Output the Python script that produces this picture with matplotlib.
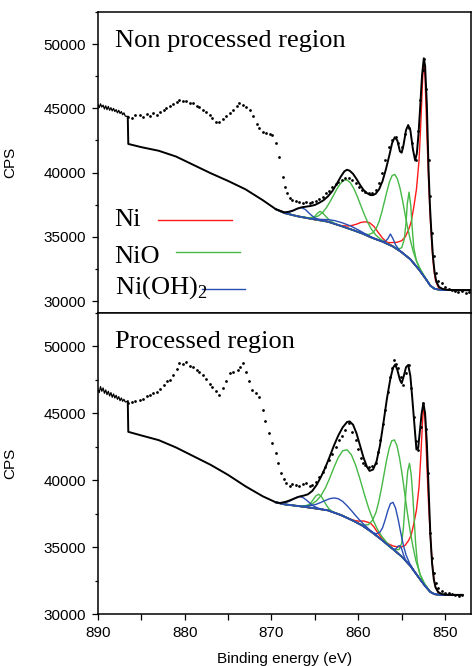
import numpy as np
import matplotlib.pyplot as plt
from matplotlib.ticker import MultipleLocator

# ---------------- shared ----------------
noise_e = [890.0, 889.85, 889.7, 889.55, 889.4, 889.25, 889.1, 888.95, 888.8, 888.65, 888.5, 888.35,
           888.2, 888.05, 887.9, 887.75, 887.6, 887.45, 887.3, 887.15, 887.0, 886.85, 886.56]

# ---------------- top panel: non processed region ----------------
top_noise_v = [45300, 45050, 45350, 45100, 45250, 44950, 45200, 44900, 45150, 44850, 45050, 44800,
               45000, 44750, 44900, 44650, 44850, 44600, 44750, 44500, 44650, 44400, 44350]

top_bg_e = [886.56, 886.5, 885.0, 883.0, 881.0, 879.0, 877.0, 875.0, 873.0, 871.0, 869.5, 868.5, 867.0,
            865.0, 863.5, 862.0, 860.5, 859.5, 858.5, 857.3, 856.0, 855.0, 854.0, 853.0, 852.3, 851.7,
            851.2, 850.5, 849.0, 847.1]
top_bg_v = [44350, 42230, 41980, 41700, 41250, 40600, 39950, 39350, 38700, 37850, 37150, 36850, 36600,
            36350, 36180, 35850, 35500, 35250, 34950, 34650, 34250, 33800, 33250, 32450, 31800, 31200,
            30950, 30870, 30850, 30850]

top_fit_e = [869.5, 868.5, 868.0, 867.5, 867.0, 866.5, 866.0, 865.5, 865.0, 864.5, 864.0, 863.5, 863.0,
             862.5, 862.0, 861.6, 861.3, 861.0, 860.6, 860.2, 859.8, 859.4, 859.0, 858.6, 858.3, 858.0,
             857.6, 857.2, 856.8, 856.4, 856.1, 855.8, 855.5, 855.2, 855.0, 854.8, 854.5, 854.25, 854.0,
             853.7, 853.45, 853.25, 853.05, 852.85, 852.65, 852.45, 852.3, 852.1, 851.9, 851.75, 851.6,
             851.4, 851.2, 851.0, 850.7, 850.3, 849.8, 849.0, 848.0, 847.1]
top_fit_v = [37150, 36900, 36950, 37050, 37200, 37300, 37350, 37400, 37480, 37650, 37850, 38150, 38550,
             39100, 39700, 40100, 40220, 40150, 39900, 39500, 39050, 38650, 38400, 38250, 38250, 38350,
             38700, 39350, 40300, 41400, 42300, 42750, 42500, 41650, 41550, 42100, 43300, 43700, 43300,
             41800, 40950, 41500, 43100, 45300, 47600, 48900, 48300, 45300, 40200, 37500, 35600,
             33500, 32200, 31500, 31100, 30950, 30880, 30860, 30850, 30850]

top_dots_e = [886.5, 886.1, 885.7, 885.2, 884.8, 884.4, 884.0, 883.6, 883.2, 882.8, 882.4, 882.1, 881.7,
              881.3, 880.9, 880.6, 880.2, 879.8, 879.4, 879.0, 878.6, 878.3, 877.9, 877.5, 877.1, 876.8,
              876.4, 876.0, 875.6, 875.2, 874.8, 874.4, 874.0, 873.7, 873.3, 872.9, 872.5, 872.1, 871.7,
              871.4, 871.0, 870.6, 870.2, 869.9, 869.5, 869.1, 868.7, 868.4, 868.2, 867.9, 867.6, 867.2,
              866.8, 866.4, 866.0, 865.6, 865.3, 864.9, 864.5, 864.1, 863.7, 863.4, 863.0, 862.6, 862.3,
              861.9, 861.5, 861.1, 860.7, 860.3, 859.9, 859.6, 859.2, 858.8, 858.4, 858.0, 857.6, 857.3,
              856.9, 856.5, 856.1, 855.7, 855.4, 855.0, 854.6, 854.2, 853.8, 853.4, 853.1, 852.9, 852.6,
              852.4, 852.2, 851.9, 851.7, 851.5, 851.3, 851.1, 850.8, 850.4, 850.0, 849.6, 849.2, 848.9,
              848.5, 848.1, 847.6, 847.2]
top_dots_v = [44360, 44250, 44450, 44490, 44350, 44550, 44400, 44600, 44490, 44750, 44900, 45030, 45200,
              45350, 45500, 45660, 45550, 45580, 45450, 45400, 45200, 45110, 44900, 44700, 44450, 44230,
              43900, 43950, 44150, 44400, 44640, 44900, 45200, 45400, 45270, 45100, 44880, 44400, 43800,
              43500, 43190, 43050, 43000, 42930, 42280, 41240, 39680, 38900, 38390, 38050, 37870, 37800,
              37740, 37650, 37700, 37600, 37690, 37800, 37950, 38130, 38400, 38600, 38900, 39150, 39300,
              39430, 39600, 39560, 39400, 39170, 38900, 38650, 38500, 38390, 38450, 38650, 39200, 39950,
              41000, 42020, 42500, 42800, 42300, 42020, 43000, 43450, 42300, 40980, 43200, 45660, 48000,
              48830, 46500, 40980, 38200, 35270, 33500, 32160, 31600, 31380, 31100, 30950, 30860, 30800,
              30700, 30750, 30650, 30720]

# Ni components (red)
top_ni_main_e = [856.5, 856.0, 855.5, 855.0, 854.6, 854.2, 853.9, 853.6, 853.3, 853.0, 852.8, 852.6,
                 852.45, 852.3, 852.1, 851.9, 851.7, 851.5, 851.3, 851.1, 850.8]
top_ni_main_v = [34550, 34550, 34580, 34700, 34980, 35560, 36170, 37330, 38690, 40950, 43760, 47100,
                 48700, 47300, 43100, 39400, 36400, 34100, 32500, 31590, 31100]
top_ni_sat_e = [861.9, 861.3, 860.7, 860.2, 859.7, 859.2, 858.7, 858.2, 857.7, 857.2, 856.7, 856.2]
top_ni_sat_v = [35880, 35840, 35890, 35985, 36120, 36170, 36100, 35815, 35340, 34895, 34575, 34335]

# NiO components (green)
top_nio_a_e = [855.4, 855.0, 854.7, 854.5, 854.35, 854.15, 853.95, 853.8, 853.6, 853.3, 853.0, 852.5, 852.0]
top_nio_a_v = [34050, 34150, 34810, 36070, 37590, 38480, 37410, 35810, 34130, 33140, 32650, 32060, 31530]
top_nio_b_e = [859.3, 858.8, 858.3, 857.9, 857.6, 857.3, 857.0, 856.7, 856.4, 856.1, 855.8, 855.5, 855.2,
               854.9, 854.6, 854.3, 854.0, 853.7, 853.3, 852.8, 852.3]
top_nio_b_v = [35230, 35180, 35320, 35700, 36190, 36900, 37710, 38540, 39290, 39770, 39860, 39520, 38810,
               37830, 36730, 35670, 34740, 33930, 33120, 32400, 31835]
top_nio_c_e = [865.8, 865.1, 864.6, 864.1, 863.7, 863.3, 862.9, 862.5, 862.1, 861.7, 861.3, 860.9, 860.5,
               860.1, 859.7, 859.3, 858.9, 858.5, 858.0, 857.5, 856.8]
top_nio_c_v = [36490, 36510, 36630, 36900, 37240, 37680, 38170, 38680, 39110, 39390, 39430, 39200, 38740,
               38120, 37420, 36730, 36110, 35610, 35150, 34850, 34540]
top_nio_d_e = [866.0, 865.4, 865.0, 864.7, 864.4, 864.1, 863.8, 863.4, 862.9, 862.3]
top_nio_d_v = [36480, 36490, 36600, 36840, 36980, 36860, 36630, 36360, 36110, 35920]

# Ni(OH)2 components (blue)
top_oh_a_e = [869.0, 868.3, 867.9, 867.5, 867.1, 866.6, 866.1, 865.7, 865.3, 864.9, 864.3]
top_oh_a_v = [37000, 36880, 36930, 37040, 37180, 37280, 37130, 36860, 36620, 36440, 36300]
top_oh_b_e = [865.5, 864.5, 863.5, 862.7, 861.8, 860.9, 860.0, 859.0, 858.0]
top_oh_b_v = [36420, 36360, 36340, 36260, 36080, 35850, 35540, 35160, 34820]
top_oh_c_e = [857.3, 856.9, 856.6, 856.3, 856.0, 855.7, 855.3, 854.8]
top_oh_c_v = [34650, 34640, 34850, 35220, 34850, 34370, 34000, 33690]

# ---------------- bottom panel: processed region ----------------
bot_noise_v = [46800, 46550, 47000, 46650, 46900, 46500, 46750, 46400, 46650, 46300, 46550, 46200,
               46450, 46150, 46350, 46050, 46250, 45950, 46150, 45900, 46050, 45850, 45900]

bot_bg_e = [886.56, 886.5, 885.0, 883.0, 881.0, 879.0, 877.0, 875.0, 873.0, 871.0, 869.5, 868.5, 867.0,
            865.0, 863.5, 862.0, 860.5, 859.5, 858.5, 857.3, 856.0, 855.0, 854.0, 853.0, 852.3, 851.7,
            851.2, 850.5, 849.0, 848.0]
bot_bg_v = [45900, 43620, 43350, 43000, 42450, 41800, 41150, 40400, 39550, 38800, 38350, 38200, 38080,
            37900, 37750, 37400, 36950, 36600, 36150, 35550, 34850, 34300, 33600, 32700, 32100, 31650,
            31480, 31440, 31430, 31430]

bot_fit_e = [869.5, 869.0, 868.3, 867.8, 867.3, 866.8, 866.3, 865.8, 865.3, 864.8, 864.3, 863.8, 863.3,
             862.8, 862.3, 861.8, 861.3, 861.0, 860.6, 860.2, 859.8, 859.4, 859.0, 858.7, 858.3, 857.9,
             857.5, 857.1, 856.7, 856.3, 856.0, 855.75, 855.5, 855.2, 855.0, 854.75, 854.5, 854.25,
             854.0, 853.8, 853.55, 853.3, 853.1, 852.9, 852.7, 852.5, 852.3, 852.1, 851.9, 851.7, 851.5,
             851.3, 851.1, 850.8, 850.4, 850.0, 849.0, 848.0]
bot_fit_v = [38350, 38300, 38400, 38520, 38650, 38780, 38850, 38950, 39200, 39650, 40250, 40950, 41750,
             42600, 43350, 43950, 44350, 44400, 44150, 43500, 42600, 41700, 41000, 40700, 40800, 41400,
             42600, 44300, 46100, 47600, 48400, 48650, 48250, 47500, 47250, 47800, 48450, 48620,
             47800, 46300, 44300, 42300, 42400, 43700, 45000, 45760, 45000, 42800, 39400, 36000, 33800,
             32600, 32000, 31650, 31500, 31440, 31430, 31430]

bot_dots_e = [886.5, 886.1, 885.7, 885.2, 884.8, 884.4, 884.0, 883.6, 883.2, 882.8, 882.4, 882.0, 881.7,
              881.3, 880.9, 880.6, 880.2, 879.8, 879.4, 879.0, 878.6, 878.3, 877.9, 877.5, 877.1, 876.8,
              876.4, 876.0, 875.6, 875.2, 874.8, 874.4, 873.9, 873.6, 873.3, 872.9, 872.6, 872.2, 871.8,
              871.4, 871.0, 870.7, 870.3, 869.9, 869.5, 869.2, 868.9, 868.6, 868.3, 867.9, 867.6, 867.2,
              866.8, 866.4, 866.0, 865.6, 865.3, 864.9, 864.5, 864.1, 863.8, 863.4, 863.0, 862.6, 862.2,
              861.9, 861.5, 861.1, 860.7, 860.3, 860.0, 859.7, 859.4, 859.2, 858.8, 858.4, 858.0, 857.7,
              857.5, 857.2, 856.9, 856.6, 856.3, 856.1, 855.9, 855.6, 855.4, 855.1, 854.8, 854.5, 854.2,
              853.9, 853.6, 853.3, 853.1, 852.8, 852.5, 852.2, 852.0, 851.7, 851.5, 851.3, 851.0, 850.8,
              850.4, 850.0, 849.6, 849.2, 848.8, 848.4, 848.1]
bot_dots_v = [45760, 45850, 45950, 46010, 46100, 46300, 46350, 46500, 46630, 46850, 47100, 47400, 47500,
              47900, 48300, 48750, 48700, 48870, 48550, 48500, 48250, 48120, 47850, 47550, 47200, 47000,
              46650, 46380, 46900, 47400, 48000, 48100, 48250, 48500, 48750, 48100, 47400, 46760, 46500,
              46250, 45260, 44400, 43520, 42800, 42030, 41300, 40530, 40100, 39790, 39600, 39700, 39660,
              39550, 39700, 39790, 39600, 39660, 39900, 40280, 40650, 41000, 41530, 42000, 42500, 43020,
              43300, 43770, 44270, 43600, 43020, 42300, 41650, 41300, 41150, 41000, 41100, 41280, 42100,
              43020, 44200, 45260, 46600, 47750, 48400, 49000, 48700, 48380, 47700, 47130, 48000, 48620,
              46900, 44760, 42900, 42270, 44000, 45760, 43800, 40530, 36050, 34200, 33060, 32300, 31940,
              31700, 31600, 31570, 31500, 31450, 31350, 31440]

bot_ni_main_e = [856.5, 856.0, 855.5, 855.0, 854.6, 854.2, 853.9, 853.6, 853.3, 853.0, 852.8, 852.6,
                 852.45, 852.3, 852.1, 851.9, 851.7, 851.5, 851.3, 851.1, 850.8]
bot_ni_main_v = [35240, 35090, 35020, 35020, 35140, 35500, 35910, 36760, 37760, 39500, 41730, 44360,
                 45630, 44500, 41150, 38200, 35810, 33980, 32710, 31995, 31620]
bot_ni_sat_e = [861.2, 860.4, 859.9, 859.4, 858.9, 858.6, 858.2, 857.8, 857.3, 856.8]
bot_ni_sat_v = [37150, 36990, 36940, 36960, 36860, 36800, 36520, 36120, 35660, 35310]

bot_nio_a_e = [856.2, 855.7, 855.3, 855.0, 854.8, 854.65, 854.5, 854.3, 854.1, 853.9, 853.7, 853.55,
               853.4, 853.2, 852.9, 852.5, 852.0]
bot_nio_a_v = [34910, 34800, 34820, 35300, 36460, 37860, 39250, 40710, 41270, 40410, 38630, 36990,
               35350, 33870, 32960, 32390, 31920]
bot_nio_b_e = [859.85, 859.35, 858.85, 858.35, 857.95, 857.65, 857.35, 857.05, 856.75, 856.45, 856.15,
               855.85, 855.55, 855.25, 854.95, 854.65, 854.35, 854.05, 853.75, 853.35, 852.85, 852.35, 851.85]
bot_nio_b_v = [36750, 36665, 36670, 37015, 37620, 38380, 39320, 40390, 41460, 42360, 42940,
               43020, 42610, 41680, 40460, 39030, 37600, 36300, 35200, 33955, 32930, 32265, 31790]
bot_nio_c_e = [866.5, 865.9, 865.3, 864.8, 864.3, 863.8, 863.3, 862.8, 862.3, 861.8, 861.3, 860.8, 860.3,
               859.8, 859.3, 858.8, 858.3, 857.8, 857.3, 856.7, 856.1]
bot_nio_c_v = [38075, 38124, 38240, 38467, 38847, 39410, 40145, 40960, 41710, 42200, 42280, 41910, 41120,
               40080, 38955, 37900, 37037, 36337, 35820, 35334, 34935]
bot_nio_d_e = [866.15, 865.75, 865.45, 865.15, 864.85, 864.55, 864.25, 863.95, 863.65, 863.35, 862.95]
bot_nio_d_v = [38060, 38140, 38320, 38600, 38855, 38950, 38785, 38460, 38110, 37850, 37650]

bot_oh_a_e = [869.4, 868.8, 868.3, 867.9, 867.5, 867.1, 866.7, 866.3, 865.9, 865.5, 865.1, 864.6, 864.0]
bot_oh_a_v = [38340, 38295, 38340, 38435, 38590, 38730, 38780, 38680, 38480, 38245, 38050, 37910, 37810]
bot_oh_b_e = [866.6, 865.9, 865.3, 864.8, 864.3, 863.8, 863.3, 862.8, 862.3, 861.8, 861.3, 860.8, 860.3,
              859.8, 859.3, 858.7, 858.0]
bot_oh_b_v = [38060, 38085, 38125, 38215, 38345, 38490, 38620, 38680, 38620, 38420, 38100, 37740, 37355,
              36995, 36665, 36305, 35920]
bot_oh_c_e = [858.4, 857.9, 857.5, 857.2, 856.9, 856.6, 856.3, 856.0, 855.7, 855.4, 855.1, 854.8, 854.5,
              854.1, 853.6]
bot_oh_c_v = [36120, 35990, 36125, 36450, 37045, 37720, 38250, 38350, 37910, 37060, 36055, 35130, 34425,
              33810, 33260]
bot_oh_d_e = [856.1, 855.8, 855.6, 855.4, 855.2, 855.0, 854.8, 854.6, 854.3]
bot_oh_d_v = [34900, 34835, 34920, 35080, 35110, 34860, 34450, 34115, 33810]

RED = '#ff1a1a'
GREEN = '#45b845'
BLUE = '#2a4db3'
SERIF = 'Liberation Serif'
SANS = 'Liberation Sans'


def with_bg(bg_e, bg_v, pk_e, pk_v):
    # component drawn on top of the background over the whole fit window
    bg_e = np.asarray(bg_e)
    bg_v = np.asarray(bg_v)
    keep = (bg_e <= 869.5) & (bg_e >= 849.0) & ((bg_e > max(pk_e)) | (bg_e < min(pk_e)))
    e = np.concatenate([bg_e[keep], pk_e])
    v = np.concatenate([bg_v[keep], pk_v])
    order = np.argsort(e)
    return e[order], v[order]


def draw_panel(ax, noise_v, bg_e, bg_v, fit_e, fit_v, dots_e, dots_v, comps, title):
    ax.plot(noise_e, noise_v, color='k', lw=0.9)
    ax.plot(bg_e, bg_v, color='k', lw=1.4)
    for colour, parts in comps:
        for pe, pv in parts:
            e, v = with_bg(bg_e, bg_v, pe, pv)
            ax.plot(e, v, color=colour, lw=1.0)
    ax.plot(fit_e, fit_v, color='k', lw=1.4)
    ax.plot(dots_e, dots_v, 'o', color='k', ms=2.0, mew=0)
    ax.text(0.045, 0.905, title, transform=ax.transAxes, family=SERIF, fontsize=19,
            va='center', ha='left')
    ax.set_xlim(890, 847)
    ax.xaxis.set_major_locator(MultipleLocator(10))
    ax.xaxis.set_minor_locator(MultipleLocator(5))
    ax.yaxis.set_major_locator(MultipleLocator(5000))
    ax.yaxis.set_minor_locator(MultipleLocator(2500))
    ax.tick_params(which='major', direction='out', length=4.5, width=0.9, labelsize=11, pad=4)
    ax.tick_params(which='minor', direction='out', length=2.5, width=0.9)
    ax.tick_params(axis='x', which='both', length=4.5)
    for lab in ax.get_xticklabels() + ax.get_yticklabels():
        lab.set_family(SANS)
    for sp in ax.spines.values():
        sp.set_linewidth(1.1)
    ax.set_ylabel('CPS', family=SANS, fontsize=11)
    ax.yaxis.set_label_coords(-0.215, 0.5)


fig = plt.figure(figsize=(4.73, 6.66), dpi=100)
ax1 = fig.add_axes([0.207, 0.530, 0.789, 0.452])
ax2 = fig.add_axes([0.207, 0.078, 0.789, 0.452])

top_comps = [
    (RED, [(top_ni_main_e, top_ni_main_v), (top_ni_sat_e, top_ni_sat_v)]),
    (GREEN, [(top_nio_a_e, top_nio_a_v), (top_nio_b_e, top_nio_b_v), (top_nio_c_e, top_nio_c_v),
             (top_nio_d_e, top_nio_d_v)]),
    (BLUE, [(top_oh_a_e, top_oh_a_v), (top_oh_b_e, top_oh_b_v), (top_oh_c_e, top_oh_c_v)]),
]
bot_comps = [
    (RED, [(bot_ni_main_e, bot_ni_main_v), (bot_ni_sat_e, bot_ni_sat_v)]),
    (GREEN, [(bot_nio_a_e, bot_nio_a_v), (bot_nio_b_e, bot_nio_b_v), (bot_nio_c_e, bot_nio_c_v),
             (bot_nio_d_e, bot_nio_d_v)]),
    (BLUE, [(bot_oh_a_e, bot_oh_a_v), (bot_oh_b_e, bot_oh_b_v), (bot_oh_c_e, bot_oh_c_v),
            (bot_oh_d_e, bot_oh_d_v)]),
]

draw_panel(ax1, top_noise_v, top_bg_e, top_bg_v, top_fit_e, top_fit_v, top_dots_e, top_dots_v,
           top_comps, 'Non processed region')
draw_panel(ax2, bot_noise_v, bot_bg_e, bot_bg_v, bot_fit_e, bot_fit_v, bot_dots_e, bot_dots_v,
           bot_comps, 'Processed region')

ax1.set_ylim(29070, 52500)
ax2.set_ylim(30000, 52500)
ax1.tick_params(axis='x', labelbottom=False)
ax2.set_xlabel('Binding energy (eV)', family=SANS, fontsize=11, labelpad=9)

# legend written inside the top panel
legend_items = [('Ni', RED, 0.309, 0.160, 0.358, 0.309),
                ('NiO', GREEN, 0.186, 0.209, 0.380, 0.203),
                (r'Ni(OH)$_{\mathregular{2}}$', BLUE, 0.086, 0.278, 0.393, 0.080)]
for label, colour, ty, x0, x1, ly in legend_items:
    ax1.text(0.045, ty, label, transform=ax1.transAxes, family=SERIF, fontsize=19,
             va='center', ha='left')
    ax1.plot([x0, x1], [ly, ly], transform=ax1.transAxes, color=colour, lw=1.0)

fig.savefig('out.png', dpi=100)
